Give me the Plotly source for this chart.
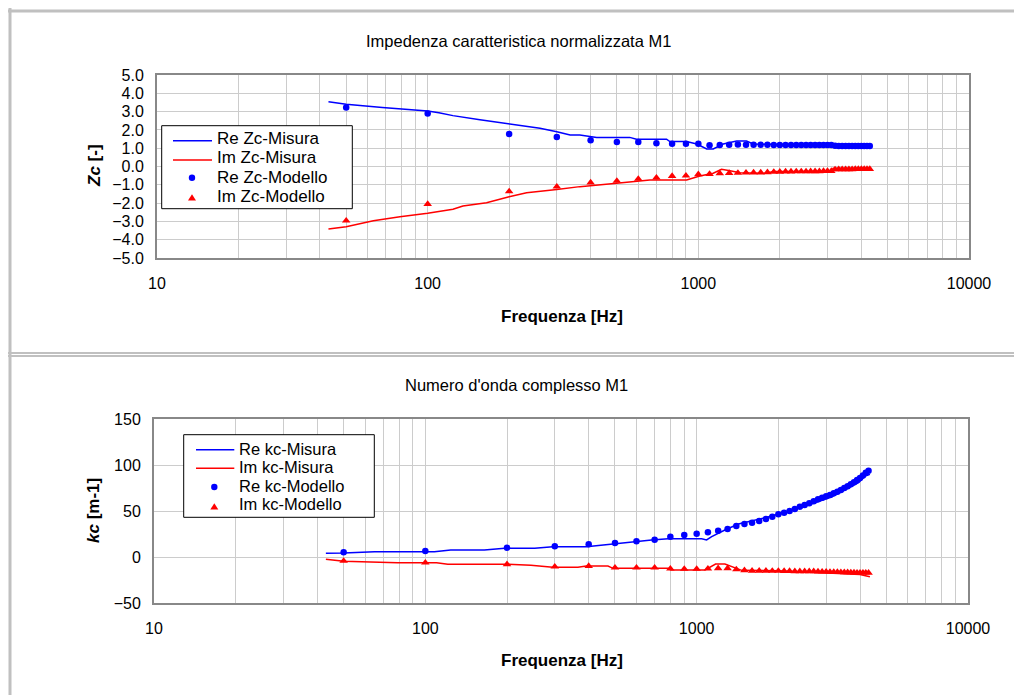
import plotly.graph_objects as go

# ---------------- data ----------------
f_mod = [50, 100, 200, 300, 400, 500, 600, 700, 800, 900, 1000, 1100, 1200, 1300,
         1400, 1500, 1600, 1700, 1800, 1900, 2000, 2100, 2200, 2300, 2400, 2500,
         2600, 2700, 2800, 2900, 3000, 3100, 3200, 3300, 3400, 3500, 3600, 3700,
         3800, 3900, 4000, 4100, 4200, 4300]

f_re_zc_mis = [43, 50, 68, 88, 100, 110, 124, 156, 200, 260, 300, 336, 365, 421, 558,
               591, 763, 785, 905, 987, 1074, 1135, 1236, 1385, 1507, 1593, 2000, 2500,
               3100, 3200, 3600, 4000, 4350]
re_zc_mis = [3.54, 3.40, 3.23, 3.12, 3.03, 2.94, 2.78, 2.55, 2.31, 2.09, 1.90, 1.72, 1.72,
             1.59, 1.59, 1.49, 1.49, 1.36, 1.36, 1.23, 0.96, 0.96, 1.23, 1.39, 1.39, 1.23,
             1.20, 1.18, 1.16, 1.09, 1.08, 1.08, 1.08]

f_im_zc_mis = [43, 50, 63, 79, 100, 124, 135, 165, 200, 232, 300, 365, 499, 608, 662,
               905, 1013, 1135, 1218, 1309, 1425, 1788, 1888, 2500, 3100, 3150, 3600,
               4000, 4350]
im_zc_mis = [-3.42, -3.29, -2.96, -2.74, -2.56, -2.34, -2.16, -1.98, -1.65, -1.43, -1.25,
             -1.10, -0.92, -0.79, -0.74, -0.74, -0.52, -0.37, -0.15, -0.23, -0.34, -0.37,
             -0.28, -0.27, -0.26, -0.10, -0.10, -0.10, -0.10]

re_zc_mod = [3.23, 2.89, 1.78, 1.61, 1.43, 1.34, 1.34, 1.27, 1.25, 1.25, 1.25, 1.16, 1.18,
             1.19, 1.20, 1.19, 1.19, 1.19, 1.19, 1.18, 1.18, 1.18, 1.18, 1.18, 1.18, 1.18,
             1.18, 1.17, 1.17, 1.17, 1.17, 1.17, 1.13, 1.12, 1.12, 1.12, 1.12, 1.12, 1.12,
             1.12, 1.12, 1.12, 1.12, 1.12]
im_zc_mod = [-2.96, -2.05, -1.36, -1.10, -0.88, -0.79, -0.68, -0.61, -0.52, -0.50, -0.43,
             -0.41, -0.37, -0.36, -0.35, -0.34, -0.33, -0.33, -0.32, -0.30, -0.29, -0.28,
             -0.28, -0.27, -0.27, -0.27, -0.26, -0.26, -0.26, -0.25, -0.25, -0.25, -0.16,
             -0.15, -0.15, -0.15, -0.15, -0.15, -0.14, -0.14, -0.14, -0.14, -0.14, -0.14]

f_re_kc_mis = [43, 50, 65, 108, 124, 165, 196, 253, 295, 392, 492, 591, 682, 786, 1043,
               1088, 1136, 1271, 1425, 1788, 2059, 2372, 2734, 3150, 3527, 3951, 4185, 4350]
re_kc_mis = [4.0, 4.3, 5.8, 5.8, 7.6, 7.6, 9.6, 9.4, 11.2, 11.2, 14.1, 16.7, 18.5, 19.9,
             19.9, 18.5, 22.1, 29.3, 35.9, 42.7, 47.5, 54.0, 59.0, 65.5, 72.8, 80.8, 88.0,
             90.0]

f_im_kc_mis = [43, 50, 79, 110, 121, 200, 245, 295, 365, 392, 471, 492, 786, 803, 1074,
               1136, 1174, 1271, 1346, 1466, 2000, 2372, 3150, 4000, 4350]
im_kc_mis = [-2.5, -4.7, -6.2, -6.2, -7.9, -7.9, -9.0, -11.2, -11.2, -9.8, -9.8, -12.3,
             -12.3, -14.1, -14.1, -9.8, -7.6, -7.6, -10.5, -14.5, -15.0, -16.0, -17.7,
             -19.0, -21.4]

re_kc_mod = [5.1, 6.5, 10.1, 11.6, 13.8, 15.2, 17.0, 18.8, 22.1, 23.9, 25.3, 26.8, 28.6,
             30.4, 33.7, 35.9, 37.3, 39.1, 41.3, 43.8, 46.4, 48.2, 50.0, 52.3, 54.7, 56.5,
             58.3, 60.5, 62.7, 64.5, 66.0, 67.4, 69.2, 71.0, 72.8, 75.0, 77.0, 79.0, 81.3,
             83.7, 86.0, 88.5, 91.5, 93.8]
im_kc_mod = [-4.3, -6.2, -7.9, -10.5, -9.8, -11.6, -11.6, -11.6, -12.7, -13.0, -13.0,
             -12.7, -12.3, -12.3, -13.5, -14.5, -15.0, -15.0, -15.0, -15.2, -15.2, -15.3,
             -15.3, -15.5, -15.5, -15.5, -15.6, -15.6, -15.8, -16.0, -16.0, -16.2, -16.3,
             -16.4, -16.5, -16.6, -16.7, -16.8, -16.9, -17.0, -17.0, -17.1, -17.1, -17.2]

x_tick_vals = [10, 100, 1000, 10000]
x_tick_text = ["10", "100", "1000", "10000"]
x_minor_vals = [m * d for d in (10, 100, 1000) for m in range(2, 10)]
y1_tick_vals = [5, 4, 3, 2, 1, 0, -1, -2, -3, -4, -5]
y2_tick_vals = [150, 100, 50, 0, -50]

title_top = "Impedenza caratteristica normalizzata M1"
title_bot = "Numero d'onda complesso M1"
legend_top = ["Re Zc-Misura", "Im Zc-Misura", "Re Zc-Modello", "Im Zc-Modello"]
legend_bot = ["Re kc-Misura", "Im kc-Misura", "Re kc-Modello", "Im kc-Modello"]

# ---------------- styling ----------------
W, H = 1014, 695
FONT = "Liberation Sans, Arial, sans-serif"
BLUE = "#0000ff"
RED = "#ff0000"
GRID = "#cccccc"
AXC = "#888888"
FRAME = "#c0c0c0"


def px(x):
    return x / W


def py(y):
    return 1 - y / H


fig = go.Figure()
fig.add_trace(go.Scatter(x=f_re_zc_mis, y=re_zc_mis, mode="lines", name=legend_top[0],
                         line=dict(color=BLUE, width=1.5), xaxis="x", yaxis="y"))
fig.add_trace(go.Scatter(x=f_im_zc_mis, y=im_zc_mis, mode="lines", name=legend_top[1],
                         line=dict(color=RED, width=1.5), xaxis="x", yaxis="y"))
fig.add_trace(go.Scatter(x=f_mod, y=re_zc_mod, mode="markers", name=legend_top[2],
                         marker=dict(color=BLUE, size=6.5, symbol="circle"), xaxis="x", yaxis="y"))
fig.add_trace(go.Scatter(x=f_mod, y=im_zc_mod, mode="markers", name=legend_top[3],
                         marker=dict(color=RED, size=7.5, symbol="triangle-up"), xaxis="x", yaxis="y"))
fig.add_trace(go.Scatter(x=f_re_kc_mis, y=re_kc_mis, mode="lines", name=legend_bot[0],
                         line=dict(color=BLUE, width=1.5), xaxis="x2", yaxis="y2"))
fig.add_trace(go.Scatter(x=f_im_kc_mis, y=im_kc_mis, mode="lines", name=legend_bot[1],
                         line=dict(color=RED, width=1.5), xaxis="x2", yaxis="y2"))
fig.add_trace(go.Scatter(x=f_mod, y=re_kc_mod, mode="markers", name=legend_bot[2],
                         marker=dict(color=BLUE, size=6.5, symbol="circle"), xaxis="x2", yaxis="y2"))
fig.add_trace(go.Scatter(x=f_mod, y=im_kc_mod, mode="markers", name=legend_bot[3],
                         marker=dict(color=RED, size=7.5, symbol="triangle-up"), xaxis="x2", yaxis="y2"))

xcommon = dict(type="log", range=[1, 4], tickmode="array", tickvals=x_tick_vals,
               ticktext=x_tick_text, showgrid=True, gridcolor=GRID, gridwidth=1,
               minor=dict(tickmode="array", tickvals=x_minor_vals, showgrid=True,
                          gridcolor=GRID, gridwidth=1, ticks=""),
               showline=True, linecolor=AXC, linewidth=2, mirror=True, ticks="",
               zeroline=False, ticklabelstandoff=10, automargin=False,
               tickfont=dict(family=FONT, size=16, color="black"))
ycommon = dict(showgrid=True, gridcolor=GRID, gridwidth=1, showline=True, linecolor=AXC,
               linewidth=2, mirror=True, ticks="", zeroline=False, ticklabelstandoff=8,
               automargin=False,
               tickfont=dict(family=FONT, size=16, color="black"), tickmode="array")

fig.update_layout(
    width=W, height=H, margin=dict(l=0, r=0, t=0, b=0, pad=0), autosize=False,
    paper_bgcolor="white", plot_bgcolor="white", showlegend=False,
    font=dict(family=FONT, color="black"),
    xaxis=dict(domain=[px(157), px(969)], anchor="y", **xcommon),
    yaxis=dict(domain=[py(258), py(75)], anchor="x", range=[-5, 5],
               tickvals=y1_tick_vals, tickformat=".1f", **ycommon),
    xaxis2=dict(domain=[px(154), px(968)], anchor="y2", **xcommon),
    yaxis2=dict(domain=[py(603), py(419)], anchor="x2", range=[-50, 150],
                tickvals=y2_tick_vals, **ycommon),
)

shapes = []
annotations = []

# panel frames (Excel chart areas)
shapes.append(dict(type="line", xref="paper", yref="paper", x0=px(8), x1=1,
                   y0=py(11), y1=py(11), line=dict(color=FRAME, width=3)))
shapes.append(dict(type="line", xref="paper", yref="paper", x0=px(10), x1=px(10),
                   y0=py(8), y1=0, line=dict(color=FRAME, width=3)))
shapes.append(dict(type="line", xref="paper", yref="paper", x0=px(8), x1=1,
                   y0=py(353), y1=py(353), line=dict(color=FRAME, width=2)))
shapes.append(dict(type="line", xref="paper", yref="paper", x0=px(8), x1=1,
                   y0=py(356), y1=py(356), line=dict(color=FRAME, width=2)))

annotations.append(dict(text=title_top, x=px(518), y=py(41), xref="paper", yref="paper",
                        showarrow=False, xanchor="center", yanchor="middle",
                        font=dict(family=FONT, size=16.5, color="black")))
annotations.append(dict(text=title_bot, x=px(516), y=py(385), xref="paper", yref="paper",
                        showarrow=False, xanchor="center", yanchor="middle",
                        font=dict(family=FONT, size=16.5, color="black")))
for yc in (316, 660):
    annotations.append(dict(text="<b>Frequenza [Hz]</b>", x=px(562), y=py(yc), xref="paper",
                            yref="paper", showarrow=False, xanchor="center", yanchor="middle",
                            font=dict(family=FONT, size=17, color="black")))
annotations.append(dict(text="<b><i>Zc</i> [-]</b>", x=px(94), y=py(166), xref="paper",
                        yref="paper", showarrow=False, textangle=-90, xanchor="center",
                        yanchor="middle", font=dict(family=FONT, size=17, color="black")))
annotations.append(dict(text="<b><i>kc</i> [m-1]</b>", x=px(93), y=py(511), xref="paper",
                        yref="paper", showarrow=False, textangle=-90, xanchor="center",
                        yanchor="middle", font=dict(family=FONT, size=17, color="black")))


def add_legend(box, line_x, mark_x, text_x, rows_mark, rows_text, labels, fsize):
    x0, y0, x1, y1 = box
    shapes.append(dict(type="rect", xref="paper", yref="paper", x0=px(x0), x1=px(x1),
                       y0=py(y1), y1=py(y0), fillcolor="white",
                       line=dict(color="black", width=1)))
    colors = [BLUE, RED, BLUE, RED]
    for i in range(2):
        shapes.append(dict(type="line", xref="paper", yref="paper", x0=px(line_x[0]),
                           x1=px(line_x[1]), y0=py(rows_mark[i]), y1=py(rows_mark[i]),
                           line=dict(color=colors[i], width=1.5)))
    r = 3.2
    yc = rows_mark[2]
    shapes.append(dict(type="circle", xref="paper", yref="paper", x0=px(mark_x - r),
                       x1=px(mark_x + r), y0=py(yc + r), y1=py(yc - r), fillcolor=BLUE,
                       line=dict(color=BLUE, width=0)))
    yc = rows_mark[3]
    path = "M {:.5f},{:.5f} L {:.5f},{:.5f} L {:.5f},{:.5f} Z".format(
        px(mark_x - 4), py(yc + 2.8), px(mark_x + 4), py(yc + 2.8), px(mark_x), py(yc - 3.5))
    shapes.append(dict(type="path", xref="paper", yref="paper", path=path, fillcolor=RED,
                       line=dict(color=RED, width=0)))
    for i, lab in enumerate(labels):
        annotations.append(dict(text=lab, x=px(text_x), y=py(rows_text[i]), xref="paper",
                                yref="paper", showarrow=False, xanchor="left",
                                yanchor="middle", borderpad=0,
                                font=dict(family=FONT, size=fsize, color="black")))


add_legend((161.7, 125.7, 352.3, 208.7), (173, 212), 192, 216,
           [140.7, 160, 177.7, 197.7], [138.5, 157.8, 177.1, 196.4], legend_top, 17)
add_legend((183.7, 434.7, 374.3, 517.3), (196, 234.3), 214.3, 238,
           [449.7, 468.3, 487, 506.7], [448.5, 467, 485.5, 504], legend_bot, 16.5)

fig.update_layout(shapes=shapes, annotations=annotations)
fig.write_html("out.html", config={"displayModeBar": False},
               post_script=("document.body.style.margin='0';"
                            "document.body.style.overflow='hidden';"))
